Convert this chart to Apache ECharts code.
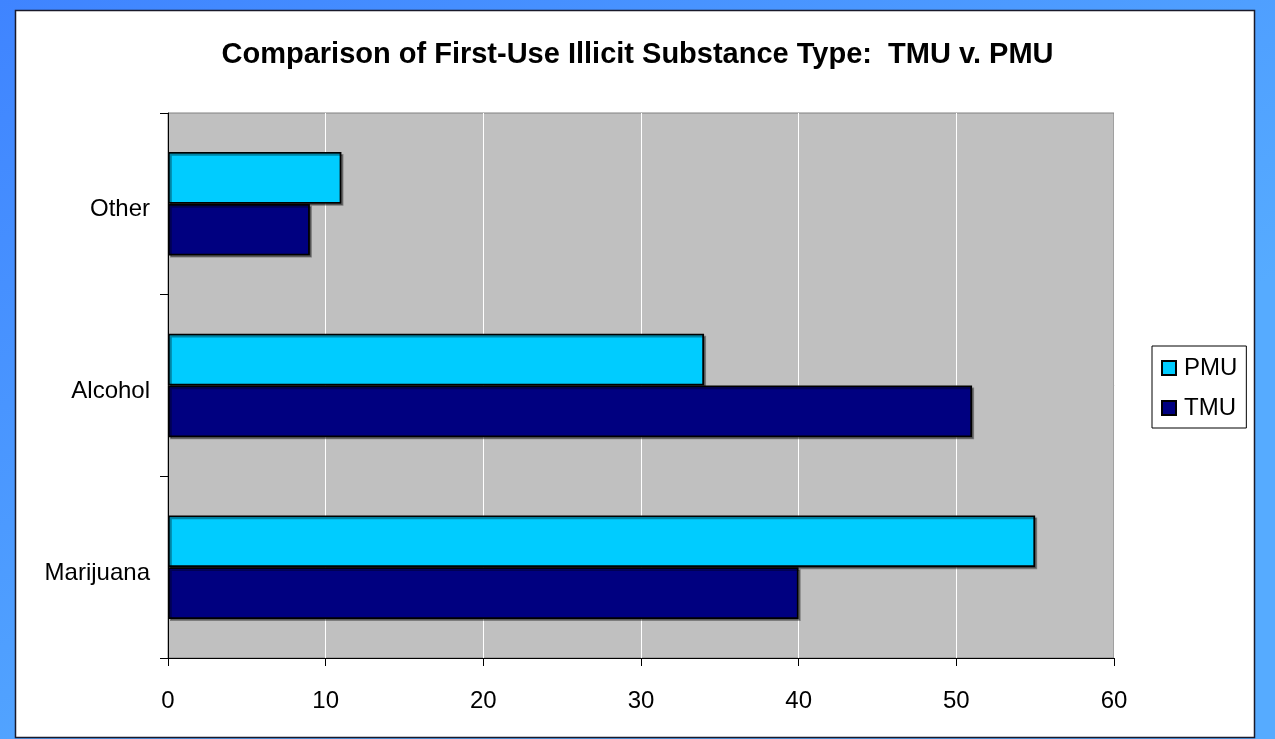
<!DOCTYPE html>
<html>
<head>
<meta charset="utf-8">
<script src="https://cdn.jsdelivr.net/npm/echarts@6/dist/echarts.min.js"></script>
<style>
html,body{margin:0;padding:0;width:1275px;height:739px;overflow:hidden;}
#chart{width:1275px;height:739px;}
</style>
</head>
<body>
<div id="chart"></div>
<script>
var categories = ['Marijuana', 'Alcohol', 'Other'];
var tmuValues = [40, 51, 9];
var pmuValues = [55, 34, 11];
var seriesNames = ['PMU', 'TMU'];
var titleText = 'Comparison of First-Use Illicit Substance Type:  TMU v. PMU';

var chart = echarts.init(document.getElementById('chart'));
var font = '"Liberation Sans", Arial, sans-serif';
var barShadow = {shadowColor: 'rgba(0,0,0,0.35)', shadowOffsetX: 2, shadowOffsetY: 2, shadowBlur: 0};
chart.setOption({
  animation: false,
  backgroundColor: {
    type: 'linear', x: 0, y: 0, x2: 0.3, y2: 1,
    colorStops: [{offset: 0, color: '#3F84FF'}, {offset: 1, color: '#56ABFF'}]
  },
  graphic: [{
    type: 'rect', z: -1,
    shape: {x: 15.5, y: 10.5, width: 1239, height: 727},
    style: {fill: '#FFFFFF', stroke: '#1a1a2a', lineWidth: 1.5}
  }],
  title: {
    text: titleText,
    left: 'center', top: 35,
    textStyle: {fontFamily: font, fontSize: 29, fontWeight: 'bold', color: '#000'}
  },
  legend: {
    data: seriesNames,
    orient: 'vertical',
    left: 1152, top: 346,
    padding: [10, 9, 8, 9],
    itemGap: 16,
    itemWidth: 14, itemHeight: 14,
    icon: 'rect',
    borderColor: '#000', borderWidth: 1,
    backgroundColor: '#fff',
    textStyle: {fontFamily: font, fontSize: 24, color: '#000', padding: [0, 0, 0, 3]}
  },
  grid: {
    left: 168, right: 161, top: 113, bottom: 81,
    show: true, backgroundColor: '#C0C0C0', borderColor: '#808080', borderWidth: 1
  },
  xAxis: {
    type: 'value', min: 0, max: 60, interval: 10,
    axisLine: {show: true, lineStyle: {color: '#000', width: 1}},
    axisTick: {show: true, length: 8, lineStyle: {color: '#000'}},
    axisLabel: {fontFamily: font, fontSize: 24, color: '#000', margin: 31},
    splitLine: {show: true, lineStyle: {color: '#FFFFFF', width: 1}}
  },
  yAxis: {
    type: 'category', data: categories,
    axisLine: {show: true, lineStyle: {color: '#000', width: 1}},
    axisTick: {show: true, length: 8, lineStyle: {color: '#000'}},
    axisLabel: {fontFamily: font, fontSize: 24, color: '#000', margin: 18, verticalAlign: 'top', lineHeight: 12},
    splitLine: {show: false}
  },
  series: [{
    name: 'PMU', type: 'bar', data: pmuValues,
    barGap: '0%', barCategoryGap: '43%',
    itemStyle: Object.assign({color: '#00CCFF', borderColor: '#000', borderWidth: 1.8}, barShadow)
  }, {
    name: 'TMU', type: 'bar', data: tmuValues,
    barGap: '0%', barCategoryGap: '43%',
    itemStyle: Object.assign({color: '#000080', borderColor: '#000', borderWidth: 1.8}, barShadow)
  }]
});
</script>
</body>
</html>
